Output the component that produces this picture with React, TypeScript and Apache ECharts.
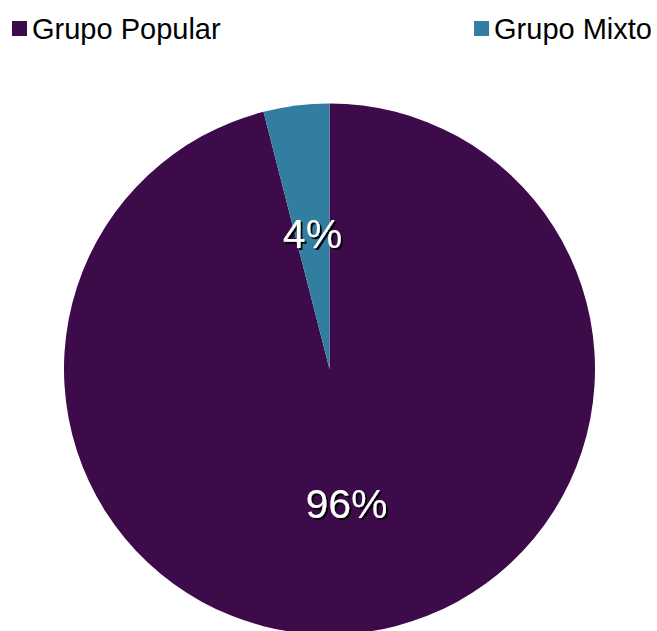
import React, { useEffect, useRef } from "react";
import * as echarts from "echarts";

const categories = ["Grupo Popular", "Grupo Mixto"];
const values = [96, 4];
const colors = ["#3d0b49", "#317ea0"];

const FONT = "'Liberation Sans', Arial, sans-serif";

export default function App() {
  const ref = useRef<HTMLDivElement>(null);
  useEffect(() => {
    if (!ref.current) return;
    const chart = echarts.init(ref.current, null, { renderer: "svg" });
    chart.setOption({
      animation: false,
      backgroundColor: "#ffffff",
      color: colors,
      legend: [
        {
          data: [categories[0]],
          left: 12,
          top: 14,
          padding: 0,
          icon: "rect",
          itemWidth: 15,
          itemHeight: 15,
          itemGap: 6,
          textStyle: { fontSize: 29, fontFamily: FONT, color: "#000" },
        },
        {
          data: [categories[1]],
          right: 5,
          top: 14,
          padding: 0,
          icon: "rect",
          itemWidth: 15,
          itemHeight: 15,
          textStyle: { fontSize: 29, fontFamily: FONT, color: "#000" },
        },
      ],
      series: [
        {
          type: "pie",
          center: [329.5, 369],
          radius: [0, 265.5],
          startAngle: 90,
          clockwise: true,
          label: {
            show: true,
            position: "inside",
            formatter: "{c}%",
            fontSize: 41,
            fontFamily: FONT,
            color: "#ffffff",
            textShadowColor: "rgba(0,0,0,0.9)",
            textShadowOffsetX: 2,
            textShadowOffsetY: 2,
            textShadowBlur: 1,
          },
          labelLine: { show: false },
          emphasis: { disabled: true },
          itemStyle: { borderWidth: 0 },
          data: categories.map((name, i) => ({ name, value: values[i] })),
        },
      ],
    });
    return () => chart.dispose();
  }, []);
  return (
    <div
      ref={ref}
      style={{ position: "fixed", left: 0, top: 0, width: 657, height: 631 }}
    />
  );
}
